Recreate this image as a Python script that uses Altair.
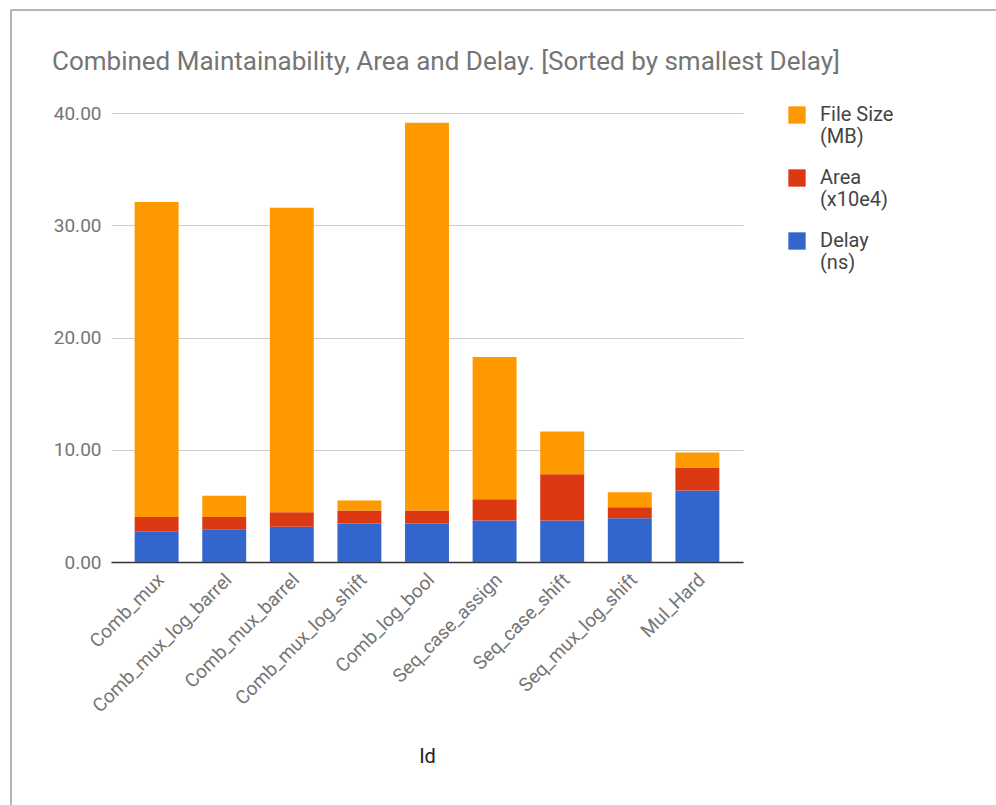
import altair as alt
import pandas as pd

ids = ["Comb_mux", "Comb_mux_log_barrel", "Comb_mux_barrel", "Comb_mux_log_shift",
       "Comb_log_bool", "Seq_case_assign", "Seq_case_shift", "Seq_mux_log_shift", "Mul_Hard"]
delay = [2.70, 2.92, 3.15, 3.42, 3.42, 3.69, 3.69, 3.90, 6.36]
area = [1.30, 1.08, 1.28, 1.16, 1.16, 1.90, 4.13, 0.98, 2.05]
file_size = [28.07, 1.91, 27.13, 0.89, 34.56, 12.67, 3.80, 1.34, 1.34]
series = ["File Size|(MB)", "Area|(x10e4)", "Delay|(ns)"]
colors = ["#FF9900", "#DC3912", "#3366CC"]
y_ticks = [0, 10, 20, 30, 40]

rows = []
for i, name in enumerate(ids):
    rows.append({"id": name, "series": series[2], "value": delay[i], "ord": 0})
    rows.append({"id": name, "series": series[1], "value": area[i], "ord": 1})
    rows.append({"id": name, "series": series[0], "value": file_size[i], "ord": 2})
df = pd.DataFrame(rows)

bars = alt.Chart(df).mark_bar().encode(
    x=alt.X("id:N", sort=ids,
            scale=alt.Scale(paddingInner=0.35, paddingOuter=0.35),
            axis=alt.Axis(labelAngle=315, labelAlign="right", labelBaseline="top",
                          labelOffset=-2, labelPadding=8, ticks=False, labelLimit=0,
                          domainColor="#333333", domainWidth=1.5,
                          labelFontSize=19, labelColor="#757575",
                          title="Id", titleFontSize=20, titleColor="#222222",
                          titleFontWeight="normal", titlePadding=31)),
    y=alt.Y("value:Q", stack="zero",
            scale=alt.Scale(domain=[0, 40]),
            axis=alt.Axis(values=y_ticks, format=".2f", title=None, domain=False,
                          ticks=False, gridColor="#cccccc", labelColor="#757575",
                          labelFontSize=19, labelPadding=10)),
    color=alt.Color("series:N",
                    scale=alt.Scale(domain=series, range=colors),
                    legend=alt.Legend(orient="none", legendX=676, legendY=-8, title=None,
                                      symbolType="square", symbolSize=300,
                                      symbolStrokeWidth=0, labelFontSize=20,
                                      labelColor="#444444", labelLimit=0,
                                      labelOffset=13, rowPadding=21,
                                      labelExpr="split(datum.label, '|')")),
    order=alt.Order("ord:Q", sort="ascending"),
)

frame_df = pd.DataFrame({"k": [0]})
left_border = alt.Chart(frame_df).mark_rule(color="#9e9e9e", strokeWidth=1.5).encode(
    x=alt.value(-100), y=alt.value(-103), y2=alt.value(692))
top_border = alt.Chart(frame_df).mark_rule(color="#9e9e9e", strokeWidth=1.5).encode(
    y=alt.value(-103), x=alt.value(-100), x2=alt.value(885))

chart = alt.layer(left_border, top_border, bars).properties(
    width=632, height=449,
    autosize=alt.AutoSizeParams(type="none"),
    padding={"left": 111, "top": 113, "right": 253, "bottom": 243},
    background="white",
    title=alt.TitleParams(
        text="Combined Maintainability, Area and Delay. [Sorted by smallest Delay]",
        anchor="start", frame="group", fontSize=26, color="#757575",
        fontWeight="normal", dx=-59, offset=0, baseline="alphabetic", dy=87),
).configure(font="Roboto").configure_view(stroke=None)

chart.save("out.html", embed_options={"renderer": "svg", "actions": False})
